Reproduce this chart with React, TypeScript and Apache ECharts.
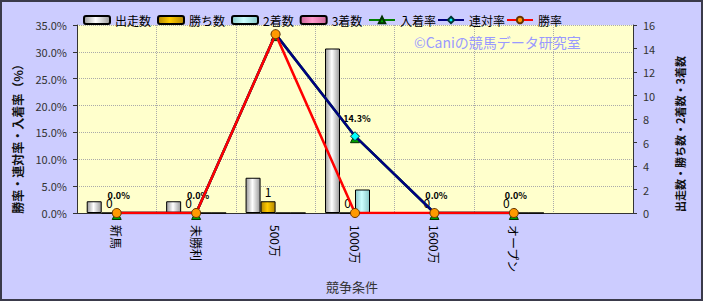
import React, { useEffect, useRef } from "react";
import * as echarts from "echarts";

const categories = ["新馬", "未勝利", "500万", "1000万", "1600万", "オープン", ""];
const starts = [1, 1, 3, 14, 0, 0, null];
const wins = [0, 0, 1, 0, 0, 0, null];
const seconds = [0, 0, 0, 2, 0, 0, null];
const thirds = [0, 0, 0, 0, 0, 0, null];
const placeRate = [0, 0, 33.3, 14.3, 0, 0, null];
const quinellaRate = [0, 0, 33.3, 14.3, 0, 0, null];
const winRate = [0, 0, 33.3, 0, 0, 0, null];
const leftTicks = { min: 0, max: 35, interval: 5 };
const rightTicks = { min: 0, max: 16, interval: 2 };

const FONT = "'Noto Sans CJK JP', 'Noto Sans', sans-serif";

function grad(edge: string, mid: string) {
  return new echarts.graphic.LinearGradient(0, 0, 1, 0, [
    { offset: 0, color: edge },
    { offset: 0.45, color: mid },
    { offset: 1, color: edge },
  ]);
}

export default function App() {
  const ref = useRef<HTMLDivElement>(null);
  useEffect(() => {
    if (!ref.current) return;
    const chart = echarts.init(ref.current, null, { renderer: "svg" });
    const barBase = {
      type: "bar",
      yAxisIndex: 1,
      barWidth: 15,
      barGap: "0%",
      z: 2,
    };
    const legendBase = {
      top: 9,
      itemWidth: 26,
      itemHeight: 8,
      textStyle: { fontSize: 12, color: "#000", fontFamily: FONT },
    };
    chart.setOption({
      animation: false,
      backgroundColor: "#ccccff",
      textStyle: { fontFamily: FONT },
      grid: {
        left: 77,
        right: 70,
        top: 25,
        bottom: 88,
        show: true,
        backgroundColor: "#ffffcc",
        borderWidth: 0,
      },
      legend: [
        {
          ...legendBase,
          left: 78,
          itemGap: 6,
          data: ["出走数", "勝ち数", "2着数", "3着数"],
        },
        {
          ...legendBase,
          left: 363,
          itemGap: 1,
          data: ["入着率", "連対率", "勝率"],
        },
      ],
      xAxis: {
        type: "category",
        data: categories,
        axisLine: { lineStyle: { color: "#333", width: 1 } },
        axisTick: { show: false },
        axisLabel: {
          rotate: -90,
          align: "left",
          verticalAlign: "middle",
          fontSize: 12,
          color: "#000",
          margin: 12,
          fontFamily: FONT,
        },
        splitLine: { show: true, lineStyle: { color: "#aaa", type: "dotted" } },
      },
      yAxis: [
        {
          type: "value",
          min: leftTicks.min,
          max: leftTicks.max,
          interval: leftTicks.interval,
          axisLine: { show: true, lineStyle: { color: "#333" } },
          axisTick: { show: true, length: 4 },
          axisLabel: {
            formatter: (v: number) => v.toFixed(1) + "%",
            fontSize: 11,
            color: "#333",
            margin: 10,
          },
          splitLine: { show: true, lineStyle: { color: "#aaa", type: "dotted" } },
        },
        {
          type: "value",
          position: "right",
          min: rightTicks.min,
          max: rightTicks.max,
          interval: rightTicks.interval,
          axisLine: { show: true, lineStyle: { color: "#333" } },
          axisTick: { show: true, length: 4 },
          axisLabel: { fontSize: 11, color: "#333", margin: 10 },
          splitLine: { show: false },
        },
      ],
      graphic: [
        {
          type: "text",
          left: 414,
          top: 35,
          style: {
            text: "©Caniの競馬データ研究室",
            fontSize: 14,
            fill: "#9999ff",
            fontFamily: FONT,
          },
          z: 1,
        },
        {
          type: "text",
          x: 17,
          y: 136,
          rotation: Math.PI / 2,
          style: {
            text: "勝率・連対率・入着率（%）",
            fontSize: 12,
            fontWeight: "bold",
            fill: "#111",
            align: "center",
            verticalAlign: "middle",
            fontFamily: FONT,
          },
        },
        {
          type: "text",
          x: 680,
          y: 134,
          rotation: Math.PI / 2,
          style: {
            text: "出走数・勝ち数・2着数・3着数",
            fontSize: 11,
            fontWeight: "bold",
            fill: "#111",
            align: "center",
            verticalAlign: "middle",
            fontFamily: FONT,
          },
        },
        {
          type: "text",
          x: 352,
          y: 286,
          style: {
            text: "競争条件",
            fontSize: 13,
            fill: "#333",
            align: "center",
            verticalAlign: "middle",
            fontFamily: FONT,
          },
        },
        {
          type: "rect",
          shape: { x: 1, y: 1, width: 701, height: 299 },
          style: { fill: "none", stroke: "#3a3a4a", lineWidth: 2 },
          silent: true,
          z: 100,
        },
      ],
      series: [
        {
          ...barBase,
          name: "出走数",
          data: starts,
          itemStyle: { color: grad("#9a9a9a", "#ffffff"), borderColor: "#000", borderWidth: 1 },
        },
        {
          ...barBase,
          name: "勝ち数",
          data: wins,
          itemStyle: { color: grad("#b38600", "#ffcc00"), borderColor: "#000", borderWidth: 1 },
          label: {
            show: true,
            position: "top",
            distance: 4,
            fontSize: 12,
            color: "#000",
            fontFamily: FONT,
          },
        },
        {
          ...barBase,
          name: "2着数",
          data: seconds,
          itemStyle: { color: grad("#88c8c8", "#ccffff"), borderColor: "#000", borderWidth: 1 },
        },
        {
          ...barBase,
          name: "3着数",
          data: thirds,
          itemStyle: { color: grad("#cc6699", "#ff99cc"), borderColor: "#000", borderWidth: 1 },
        },
        {
          type: "line",
          name: "入着率",
          yAxisIndex: 0,
          data: placeRate.map((v, i) =>
            i === 2 ? { value: v, label: { show: false } } : v
          ),
          z: 3,
          color: "#008000",
          lineStyle: { color: "#008000", width: 2.5 },
          symbol: "triangle",
          symbolSize: 9,
          symbolOffset: [0, 2],
          itemStyle: { color: "#00a000", borderColor: "#003300", borderWidth: 1 },
          label: {
            show: true,
            position: "top",
            distance: 10,
            offset: [2, 0],
            fontSize: 9,
            fontWeight: "bold",
            color: "#000",
            formatter: (p: any) => Number(p.value).toFixed(1) + "%",
          },
        },
        {
          type: "line",
          name: "連対率",
          yAxisIndex: 0,
          data: quinellaRate,
          z: 4,
          color: "#000080",
          lineStyle: { color: "#000080", width: 2.5 },
          symbol: "diamond",
          symbolSize: 9,
          itemStyle: { color: "#00ffff", borderColor: "#003333", borderWidth: 1 },
        },
        {
          type: "line",
          name: "勝率",
          yAxisIndex: 0,
          data: winRate,
          z: 5,
          color: "#ff0000",
          lineStyle: { color: "#ff0000", width: 2.5 },
          symbol: "circle",
          symbolSize: 9,
          itemStyle: { color: "#ff9900", borderColor: "#663300", borderWidth: 1 },
        },
      ],
    });
    return () => chart.dispose();
  }, []);
  return (
    <div
      ref={ref}
      style={{ position: "fixed", left: 0, top: 0, width: 703, height: 301 }}
    />
  );
}
